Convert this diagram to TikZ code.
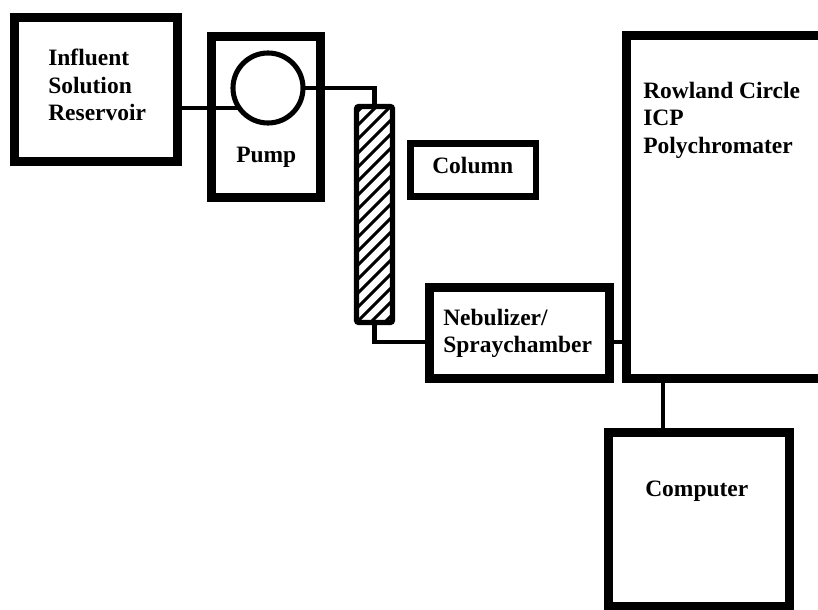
\documentclass[tikz,border=0pt]{standalone}
\usepackage{fontspec}
\setmainfont{Liberation Serif}
\usetikzlibrary{calc}

\begin{document}
\begin{tikzpicture}[
    x=0.025cm, y=-0.025cm,
    unit/.style={draw, rectangle, line width=6.4pt, outer sep=0pt, inner sep=0pt},
    tube/.style={draw, rectangle, line width=3.6pt, rounded corners=1.5pt, outer sep=0pt, inner sep=0pt},
    tag/.style={draw, rectangle, line width=4.6pt, outer sep=0pt, inner sep=0pt},
    wheelc/.style={draw, circle, line width=3.6pt, outer sep=0pt, inner sep=0pt, minimum size=1.75cm},
    pipe/.style={line width=2.85pt},
    hatch/.style={line width=2.1pt},
    lbl/.style={anchor=north west, inner sep=0pt, align=left,
                font=\fontsize{16.7}{19.4}\selectfont\bfseries},
  ]
    \useasboundingbox (0,0) rectangle (818,610);

    % Reservoir
    \node[unit, minimum width=4.075cm, minimum height=3.6cm] (res) at (96,89.5) {};
    \node[lbl] (reslbl) at (48,49) {Influent\\Solution\\Reservoir};

    % Pump
    \node[unit, minimum width=2.7125cm, minimum height=4.025cm] (pump) at (266.25,117) {};
    \node[wheelc] (wheel) at (268,88) {};
    \node[lbl] (pumplbl) at (236,147) {Pump};

    % Column (tube + label box)
    \node[tube, minimum width=0.9cm, minimum height=5.4cm] (col) at (374.5,214.5) {};
    \begin{scope}
      \clip (col.north west) rectangle (col.south east);
      \foreach \k in {-3,...,16}
        \draw[hatch] ($(col.south west)+(0,{-14*\k})$) -- ++(40,-40);
    \end{scope}
    \node[tag, minimum width=3.1375cm, minimum height=1.325cm] (collab) at (473.25,170) {};
    \node[lbl] (coltxt) at (432,157) {Column};

    % Nebulizer
    \node[unit, minimum width=4.4875cm, minimum height=2.2625cm] (neb) at (519.25,332.75) {};
    \node[lbl] (neblbl) at (443,309) {Nebulizer/\\Spraychamber};

    % Polychromater
    \node[unit, minimum width=5.325cm, minimum height=8.5625cm] (poly) at (733.5,206.75) {};
    \node[lbl] (polylbl) at (643,82) {Rowland Circle\\ICP\\Polychromater};

    % Computer
    \node[unit, minimum width=4.5cm, minimum height=4.3375cm] (comp) at (699,519.25) {};
    \node[lbl] (complbl) at (645,481) {Computer};

    % Tubing
    \coordinate (nebin) at ($(neb.west)+(0,9.25)$);
    \coordinate (nebout) at ($(neb.east)+(0,9.25)$);
    \coordinate (cu) at ($(comp.north)+(-36,0)$);

    \draw[pipe] (res.east |- wheel.215) -- (wheel.215);
    \draw[pipe] (wheel.east) -| (col.north);
    \draw[pipe] (col.south) |- (nebin);
    \draw[pipe] (nebout) -- (nebout -| poly.west);
    \draw[pipe] (cu) -- (cu |- poly.south);
  \end{tikzpicture}
\end{document}
